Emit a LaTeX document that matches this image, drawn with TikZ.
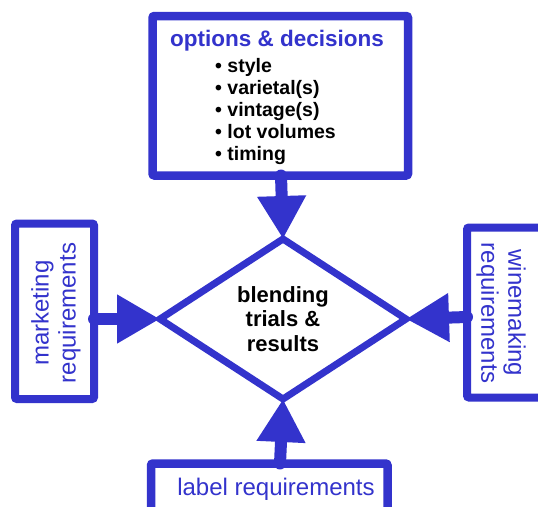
\documentclass[tikz,border=0pt]{standalone}
\usepackage{fontspec}
\setmainfont{Liberation Sans}
\usetikzlibrary{shapes.geometric,arrows.meta}
\definecolor{dblue}{RGB}{51,51,204}
\tikzset{
  box/.style={draw=dblue, line width=8.5pt, rounded corners=2pt, inner sep=0pt, outer sep=0pt, fill=white},
  conn/.style={draw=dblue, line width=12pt, line cap=round, -{Triangle[length=43pt,width=46pt]}},
  bluetxt/.style={text=dblue, font=\fontsize{24}{27}\selectfont, align=center, inner sep=0pt},
  bullet/.style={anchor=base west, inner sep=0pt, font=\fontsize{19.5}{22}\selectfont\bfseries},
}
\begin{document}
\begin{tikzpicture}[x=1pt,y=-1pt]
\useasboundingbox (0,0) rectangle (538,506);
\clip (0,0) rectangle (538,506);
% boxes
\node[box, minimum width=255.5pt, minimum height=159.5pt] (top) at (280.25,95.75) {};
\node[box, line width=8pt, minimum width=79pt, minimum height=175.5pt] (left) at (54.5,311.25) {};
\node[box, line width=8pt, minimum width=80pt, minimum height=170pt] (right) at (507,312.5) {};
\node[box, minimum width=236.5pt, minimum height=70pt] (bottom) at (269.25,498.5) {};
% diamond
\node[diamond, draw=dblue, line width=7pt, minimum width=246pt, minimum height=160pt, inner sep=0pt, outer sep=0pt,
      align=center, font=\fontsize{22}{24.5}\selectfont\bfseries] (dia) at (283,319) {blending\\trials \&\\results};
% texts
\node[anchor=base, inner sep=0pt, text=dblue, font=\fontsize{22.5}{26}\selectfont\bfseries] (title) at (277,46) {options \& decisions};
\node[bullet] (b1) at (215,72) {• style};
\node[bullet] (b2) at (215,94) {• varietal(s)};
\node[bullet] (b3) at (215,116) {• vintage(s)};
\node[bullet] (b4) at (215,138) {• lot volumes};
\node[bullet] (b5) at (215,160) {• timing};
\node[bluetxt, rotate=90] (ltxt) at (56,313) {marketing\\requirements};
\node[bluetxt, rotate=-90] (rtxt) at (501,313) {winemaking\\requirements};
\node[bluetxt, anchor=base] (btxt) at (276,495) {label requirements};
% connectors
\draw[conn] (top.south -| 281,0) -- (dia.north);
\draw[conn] (bottom.north -| 280,0) -- (dia.south);
\draw[conn] (left.east |- 0,319) -- (dia.west);
\draw[conn] (right.west |- 0,317) -- (dia.east);
\end{tikzpicture}
\end{document}
